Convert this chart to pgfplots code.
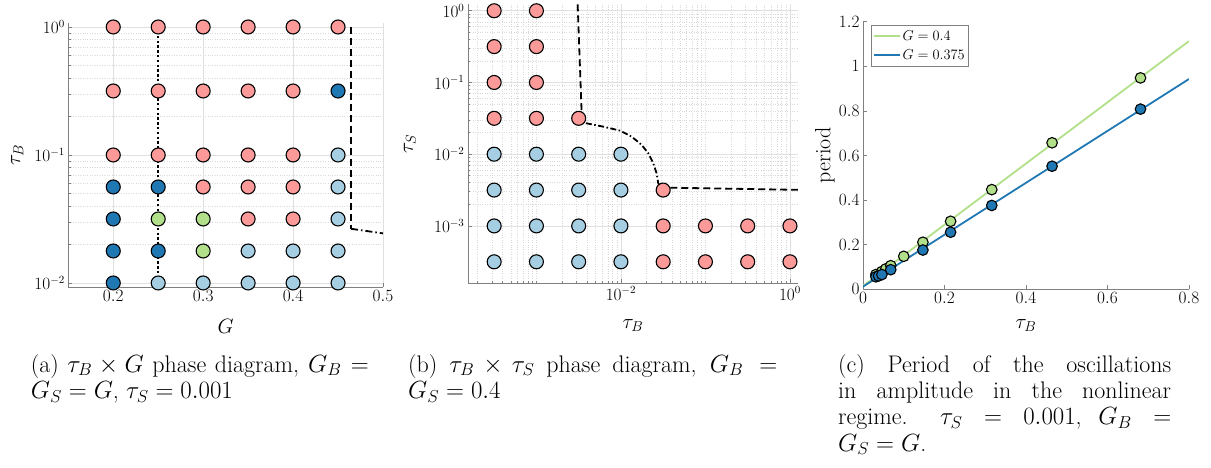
\documentclass[border=0pt]{standalone}
\usepackage{pgfplots}
\pgfplotsset{compat=1.18}
\definecolor{cpink}{HTML}{FB9A99}
\definecolor{clb}{HTML}{A6CEE3}
\definecolor{cdb}{HTML}{1F78B4}
\definecolor{cgr}{HTML}{B2DF8A}
\definecolor{axgray}{HTML}{808080}
\newcommand{\capfont}{\fontsize{24}{26.3}\selectfont}
\pgfplotsset{
  base/.style={scale only axis, axis lines*=left,
    axis line style={axgray, line width=0.9pt},
    tick align=inside, tick style={axgray, line width=0.6pt},
    major tick length=4pt, minor tick length=2.5pt,
    tick label style={font=\fontsize{16}{18}\selectfont},
    label style={font=\fontsize{22}{26}\selectfont}},
  gridded/.style={grid=both,
    major grid style={black!12, line width=0.6pt},
    minor grid style={black!15, dotted, line width=0.6pt}},
  dot/.style={only marks, mark=*, mark size=7pt,
    mark options={draw=black, line width=1.1pt, fill=#1}},
  sdot/.style={only marks, mark=*, mark size=5.3pt,
    mark options={draw=black, line width=1.1pt, fill=#1}},
}
\begin{document}
\begin{tikzpicture}[x=1pt,y=1pt]
\path[use as bounding box] (0,0) rectangle (1211,-468);
% ---------------- (a)
\begin{axis}[base, gridded, at={(68.3pt,-287pt)}, anchor=south west,
  width=314.7pt, height=264.3pt,
  xmin=0.15, xmax=0.5, ymode=log, ymin=0.0093, ymax=1.08,
  xtick={0.2,0.3,0.4,0.5}, ytick={0.01,0.1,1},
  xlabel={$G$}, ylabel={$\tau_B$},
  xlabel style={at={(axis description cs:0.5,-0.151)}, anchor=center},
  ylabel style={at={(axis description cs:-0.162,0.5)}, anchor=center}]
\addplot[dot=cpink] coordinates {(0.2,1)(0.2,0.3162)(0.2,0.1)
 (0.25,1)(0.25,0.3162)(0.25,0.1)
 (0.3,1)(0.3,0.3162)(0.3,0.1)(0.3,0.05623)
 (0.35,1)(0.35,0.3162)(0.35,0.1)(0.35,0.05623)(0.35,0.03162)
 (0.4,1)(0.4,0.3162)(0.4,0.1)(0.4,0.05623)(0.4,0.03162)
 (0.45,1)};
\addplot[dot=cdb] coordinates {(0.2,0.05623)(0.2,0.03162)(0.2,0.01778)(0.2,0.01)
 (0.25,0.05623)(0.25,0.01778)(0.45,0.3162)};
\addplot[dot=cgr] coordinates {(0.25,0.03162)(0.3,0.03162)(0.3,0.01778)};
\addplot[dot=clb] coordinates {(0.25,0.01)(0.3,0.01)(0.35,0.01778)(0.35,0.01)
 (0.4,0.01778)(0.4,0.01)(0.45,0.1)(0.45,0.05623)(0.45,0.03162)(0.45,0.01778)(0.45,0.01)};
\addplot[black, line width=2.4pt, dash pattern=on 2.4pt off 2.4pt] coordinates {(0.25,0.01)(0.25,1)};
\addplot[black, line width=1.8pt, dash pattern=on 7pt off 4pt] coordinates {(0.4645,1)(0.4645,0.0265)};
\addplot[black, line width=1.8pt, dash pattern=on 7pt off 3pt on 1.5pt off 3pt] coordinates {(0.4645,0.0265)(0.5,0.0244)};
\end{axis}
% ---------------- (b)
\begin{axis}[base, gridded, at={(468pt,-283.3pt)}, anchor=south west,
  width=330pt, height=279pt,
  xmode=log, ymode=log, xmin=1.55e-4, xmax=1.245, ymin=1.585e-4, ymax=1.23,
  xtick={0.01,1}, ytick={0.001,0.01,0.1,1},
  minor xtick={2e-4,3e-4,4e-4,5e-4,6e-4,7e-4,8e-4,9e-4,1e-3,2e-3,3e-3,4e-3,5e-3,6e-3,7e-3,8e-3,9e-3,
    2e-2,3e-2,4e-2,5e-2,6e-2,7e-2,8e-2,9e-2,0.1,0.2,0.3,0.4,0.5,0.6,0.7,0.8,0.9},
  xlabel={$\tau_B$}, ylabel={$\tau_S$},
  xlabel style={at={(axis description cs:0.5,-0.151)}, anchor=center},
  ylabel style={at={(axis description cs:-0.176,0.5)}, anchor=center}]
\addplot[dot=cpink] coordinates {
 (3.162e-4,1)(3.162e-4,0.3162)(3.162e-4,0.1)(3.162e-4,0.03162)
 (1e-3,1)(1e-3,0.3162)(1e-3,0.1)(1e-3,0.03162)
 (3.162e-3,0.03162)(0.03162,0.003162)
 (0.03162,1e-3)(0.1,1e-3)(0.3162,1e-3)(1,1e-3)
 (0.03162,3.162e-4)(0.1,3.162e-4)(0.3162,3.162e-4)(1,3.162e-4)};
\addplot[dot=clb] coordinates {
 (3.162e-4,0.01)(1e-3,0.01)(3.162e-3,0.01)(0.01,0.01)
 (3.162e-4,3.162e-3)(1e-3,3.162e-3)(3.162e-3,3.162e-3)(0.01,3.162e-3)
 (3.162e-4,1e-3)(1e-3,1e-3)(3.162e-3,1e-3)(0.01,1e-3)
 (3.162e-4,3.162e-4)(1e-3,3.162e-4)(3.162e-3,3.162e-4)(0.01,3.162e-4)};
\addplot[black, line width=1.8pt, dash pattern=on 7pt off 4pt] coordinates {(0.003076,1.23)(0.003428,0.03758)};
\addplot[black, line width=1.8pt, dash pattern=on 6pt off 2.5pt on 1.5pt off 2.5pt] coordinates {
 (0.003428,0.03758)(0.003581,0.02754)(0.006180,0.02421)(0.009727,0.02133)(0.01340,0.01758)
 (0.01758,0.01349)(0.02104,0.01033)(0.02410,0.007499)(0.02642,0.005433)(0.02761,0.003945)(0.02897,0.003622)};
\addplot[black, line width=1.8pt, dash pattern=on 7pt off 4pt] coordinates {(0.02897,0.003622)(0.03034,0.003428)(1.245,0.003184)};
\end{axis}
% ---------------- (c)
\begin{axis}[base, at={(863pt,-289.3pt)}, anchor=south west,
  width=326pt, height=267.6pt,
  xmin=0, xmax=0.8, ymin=0, ymax=1.2,
  xtick={0,0.2,0.4,0.6,0.8}, ytick={0,0.2,0.4,0.6,0.8,1,1.2},
  xlabel={$\tau_B$}, ylabel={period},
  xlabel style={at={(axis description cs:0.5,-0.135)}, anchor=center},
  ylabel style={at={(axis description cs:-0.117,0.5)}, anchor=center},
  legend cell align=left,
  legend image code/.code={\draw[#1] (0pt,0pt) -- (26pt,0pt);},
  legend style={at={(axis description cs:0.0245,0.988)}, anchor=north west,
    draw=axgray, line width=0.6pt, inner xsep=1.5pt, inner ysep=3pt, row sep=4pt,
    font=\fontsize{15}{17}\selectfont}]
\addplot[cgr, line width=1.8pt] coordinates {(0,0.015)(0.8,1.113)};
\addlegendentry{$G = 0.4$}
\addplot[cdb, line width=1.8pt] coordinates {(0,0.012)(0.8,0.943)};
\addlegendentry{$G = 0.375$}
\addplot[sdot=cgr, forget plot] coordinates {(0.0316,0.066)(0.0464,0.080)(0.0562,0.092)(0.0681,0.106)
 (0.1,0.148)(0.147,0.211)(0.215,0.305)(0.316,0.447)(0.464,0.657)(0.681,0.948)};
\addplot[sdot=cdb, forget plot] coordinates {(0.0316,0.056)(0.0383,0.060)(0.0464,0.066)(0.0681,0.088)
 (0.147,0.176)(0.215,0.256)(0.316,0.376)(0.464,0.552)(0.681,0.808)};
\end{axis}
% ---------------- captions
\node[anchor=north west, text width=338pt, align=justify, inner sep=0pt, font=\capfont] at (30.7,-354)
 {(a) $\tau_B \times G$ phase diagram, $G_B =$\linebreak $G_S = G$, $\tau_S = 0.001$};
\node[anchor=north west, text width=369pt, align=justify, inner sep=0pt, font=\capfont] at (408,-354)
 {(b) $\tau_B \times \tau_S$ phase diagram, $G_B =$\linebreak $G_S = 0.4$};
\node[anchor=north west, text width=333pt, align=justify, inner sep=0pt, font=\capfont] at (838,-354)
 {(c) Period of the oscillations\linebreak in amplitude in the nonlinear\linebreak regime. $\tau_S = 0.001$, $G_B =$\linebreak $G_S = G$.};
\end{tikzpicture}
\end{document}
